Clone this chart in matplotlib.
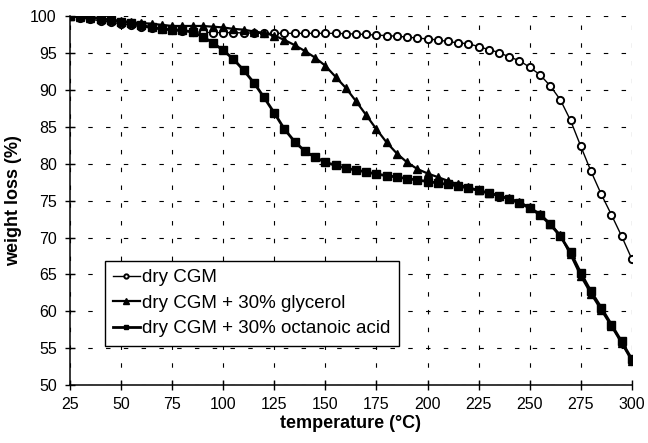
import matplotlib
matplotlib.use("Agg")
import matplotlib.pyplot as plt

plt.rcParams['font.family'] = ['Liberation Sans', 'DejaVu Sans']

temperature = list(range(25, 301, 5))

dry_cgm = [100.0, 99.8, 99.6, 99.4, 99.2, 99.0, 98.8, 98.6, 98.4, 98.25,
           98.1, 98.0, 97.9, 97.85, 97.8, 97.8, 97.8, 97.75, 97.75, 97.7,
           97.7, 97.7, 97.7, 97.7, 97.7, 97.7, 97.7, 97.65, 97.6, 97.55,
           97.45, 97.4, 97.3, 97.2, 97.05, 96.95, 96.8, 96.6, 96.4, 96.3,
           95.9, 95.5, 95.1, 94.5, 94.0, 93.1, 92.1, 90.6, 88.7, 85.9,
           82.4, 79.0, 75.9, 73.1, 70.2, 67.1]

glycerol = [100.0, 99.9, 99.8, 99.7, 99.5, 99.4, 99.2, 99.1, 99.0, 98.85,
            98.7, 98.7, 98.7, 98.7, 98.6, 98.5, 98.3, 98.2, 97.95, 97.75,
            97.4, 96.8, 96.1, 95.3, 94.4, 93.3, 91.8, 90.3, 88.5, 86.6,
            84.7, 82.9, 81.4, 80.2, 79.3, 78.7, 78.2, 77.7, 77.2, 76.8,
            76.4, 76.05, 75.7, 75.3, 74.8, 74.1, 73.2, 71.9, 70.3, 67.7,
            64.8, 62.4, 60.2, 58.0, 55.7, 53.3]

octanoic = [100.0, 100.0, 99.9, 99.7, 99.5, 99.3, 99.1, 98.8, 98.5, 98.3,
            98.2, 98.1, 97.9, 97.25, 96.4, 95.4, 94.2, 92.7, 91.0, 89.0,
            86.9, 84.7, 83.0, 81.7, 80.9, 80.2, 79.8, 79.4, 79.15, 78.9,
            78.6, 78.4, 78.2, 78.0, 77.8, 77.6, 77.4, 77.2, 77.0, 76.7,
            76.4, 76.0, 75.7, 75.2, 74.7, 74.0, 73.1, 71.8, 70.2, 68.0,
            65.2, 62.7, 60.5, 58.2, 55.9, 53.5]

labels = ["dry CGM", "dry CGM + 30% glycerol", "dry CGM + 30% octanoic acid"]
x_ticks = list(range(25, 301, 25))
y_ticks = list(range(50, 101, 5))

fig = plt.figure(figsize=(6.48, 4.43), dpi=100)
ax = fig.add_axes([0.108, 0.131, 0.867, 0.832])

ax.plot(temperature, dry_cgm, color='black', lw=1.0, marker='o', ms=5.2,
        mfc='white', mec='black', mew=1.4, label=labels[0], zorder=3)
ax.plot(temperature, glycerol, color='black', lw=1.6, marker='^', ms=6.2,
        mfc='black', mec='black', label=labels[1], zorder=4)
ax.plot(temperature, octanoic, color='black', lw=2.0, marker='s', ms=5.8,
        mfc='black', mec='black', label=labels[2], zorder=5)

ax.set_xlim(25, 300)
ax.set_ylim(50, 100)
ax.set_xticks(x_ticks)
ax.set_yticks(y_ticks)
ax.tick_params(direction='inout', length=7, width=1, labelsize=11.5,
               colors='black')
ax.tick_params(axis='y', pad=6)
ax.tick_params(axis='x', pad=5)
ax.grid(True, color='black', lw=0.8, linestyle=(0, (4, 12)))
ax.set_axisbelow(True)
for s in ['top', 'right']:
    ax.spines[s].set_visible(False)
for s in ['left', 'bottom']:
    ax.spines[s].set_linewidth(1.1)

ax.set_xlabel("temperature (°C)", fontsize=13, fontweight='bold', labelpad=2)
ax.set_ylabel("weight loss (%)", fontsize=13, fontweight='bold', labelpad=6)

leg = ax.legend(loc='lower left', bbox_to_anchor=(0.062, 0.106), borderaxespad=0,
                fancybox=False, edgecolor='black', framealpha=1, fontsize=13.5,
                handlelength=1.4, handletextpad=0.15, labelspacing=0.45,
                borderpad=0.45, markerscale=0.6)
leg.get_frame().set_linewidth(1.0)

fig.savefig("out.png", dpi=100)
